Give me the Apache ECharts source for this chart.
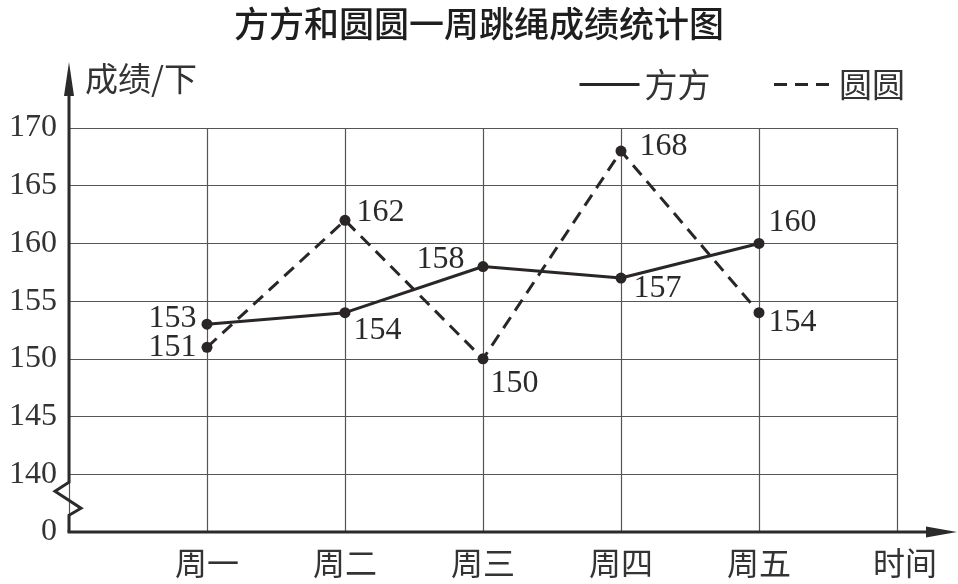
<!DOCTYPE html>
<html>
<head>
<meta charset="utf-8">
<script src="https://cdn.jsdelivr.net/npm/echarts@6/dist/echarts.min.js"></script>
<style>html,body{margin:0;padding:0;background:#fff}#c{width:958px;height:584px}</style>
</head>
<body>
<div id="c"></div>
<script>
const categories = ['周一', '周二', '周三', '周四', '周五'];
const fangfang = [153, 154, 158, 157, 160];
const yuanyuan = [151, 162, 150, 168, 154];
const yTickValues = [135, 140, 145, 150, 155, 160, 165, 170];
const yTickLabels = ['0', '140', '145', '150', '155', '160', '165', '170'];

// label placement (style only)
const ffLabelPlace = [
  {position: 'left', offset: [0, -6]},
  {position: 'right', offset: [-2, 18]},
  {position: 'left', offset: [-8, -7]},
  {position: 'right', offset: [2, 11]},
  {position: 'right', offset: [-1, -21]}
];
const yyLabelPlace = [
  {position: 'left', offset: [0, 0]},
  {position: 'right', offset: [1, -8]},
  {position: 'right', offset: [-3, 25]},
  {position: 'right', offset: [8, -4]},
  {position: 'right', offset: [-1, 10]}
];

const ink = '#2b2626';
const serif = '"Liberation Serif", "DejaVu Serif", serif';
const cjk = '"Noto Sans CJK SC", sans-serif';
const xCats = [''].concat(categories, ['']);

function mk(vals, places) {
  return vals.map((v, i) => ({
    value: [categories[i], v],
    label: {show: true, position: places[i].position, offset: places[i].offset}
  }));
}

const chart = echarts.init(document.getElementById('c'), null, {renderer: 'canvas'});
const option = {
  backgroundColor: '#fff',
  animation: false,
  title: {
    text: '方方和圆圆一周跳绳成绩统计图',
    left: 'center', top: 1,
    textStyle: {fontFamily: cjk, fontSize: 35, fontWeight: 500, color: '#1e1e1e'}
  },
  legend: {
    left: 573, top: 63,
    itemWidth: 60, itemHeight: 20, itemGap: 62,
    textStyle: {fontFamily: cjk, fontSize: 33, color: '#333', padding: [0, 0, 0, 0]},
    data: [
      {name: '方方', itemStyle: {opacity: 0}, lineStyle: {width: 3, color: ink}},
      {name: '圆圆', itemStyle: {opacity: 0}, lineStyle: {width: 3, color: ink, type: [13, 8]}}
    ]
  },
  grid: {left: 69, right: 61, top: 128, bottom: 52, containLabel: false},
  xAxis: {
    type: 'category',
    data: xCats,
    boundaryGap: false,
    axisLine: {show: false},
    axisTick: {show: false},
    axisLabel: {fontFamily: cjk, fontSize: 32, color: '#333', margin: 15, interval: 0},
    splitLine: {show: true, lineStyle: {color: '#555', width: 1.2}},
    name: '时间',
    nameLocation: 'end',
    nameGap: 8,
    nameTextStyle: {fontFamily: cjk, fontSize: 32, color: '#333', align: 'center', verticalAlign: 'top', padding: [15, 0, 0, 0]}
  },
  yAxis: {
    type: 'value',
    min: 135, max: 170, interval: 5,
    axisLine: {show: false},
    axisTick: {show: false},
    axisLabel: {
      fontFamily: serif, fontSize: 32, color: '#333', margin: 12,
      formatter: v => { const k = yTickValues.indexOf(v); return k >= 0 ? yTickLabels[k] : ''; }
    },
    splitLine: {show: true, lineStyle: {color: '#555', width: 1.2}},
    name: '成绩/下',
    nameLocation: 'end',
    nameGap: 50,
    nameTextStyle: {fontFamily: cjk, fontSize: 33, color: '#333', align: 'left', verticalAlign: 'middle', padding: [0, 0, 0, 16]}
  },
  series: [
    {
      name: '方方', type: 'line',
      data: mk(fangfang, ffLabelPlace),
      symbol: 'circle', symbolSize: 11,
      itemStyle: {color: ink},
      lineStyle: {color: ink, width: 3},
      label: {fontFamily: serif, fontSize: 32, color: '#2a2a2a'},
      z: 3
    },
    {
      name: '圆圆', type: 'line',
      data: mk(yuanyuan, yyLabelPlace),
      symbol: 'circle', symbolSize: 11,
      itemStyle: {color: ink},
      lineStyle: {color: ink, width: 3, type: [13, 8]},
      label: {fontFamily: serif, fontSize: 32, color: '#2a2a2a'},
      z: 2
    }
  ]
};
chart.setOption(option);

// axes with break and arrows, positioned via the chart's own scales
const p0 = chart.convertToPixel({gridIndex: 0}, [0, 135]);
const p140 = chart.convertToPixel({gridIndex: 0}, [0, 140]);
const x0 = p0[0], yBase = p0[1], y140 = p140[1];
const axStyle = {stroke: '#2b2b2b', lineWidth: 3, fill: null, lineJoin: 'miter'};
chart.setOption({
  graphic: [
    {type: 'polyline', z: 10, shape: {points: [
      [x0, yBase], [x0, y140 + 41], [x0 + 12, y140 + 34], [x0 - 14, y140 + 17], [x0, y140 + 8], [x0, 90]
    ]}, style: axStyle},
    {type: 'polygon', z: 10, shape: {points: [[x0, 62], [x0 - 5, 96], [x0 + 5, 96]]}, style: {fill: '#2b2b2b'}},
    {type: 'line', z: 10, shape: {x1: x0 - 1.5, y1: yBase, x2: 930, y2: yBase}, style: {stroke: '#2b2b2b', lineWidth: 3}},
    {type: 'polygon', z: 10, shape: {points: [[957, yBase], [926, yBase - 5.5], [926, yBase + 5.5]]}, style: {fill: '#2b2b2b'}}
  ]
});
</script>
</body>
</html>
